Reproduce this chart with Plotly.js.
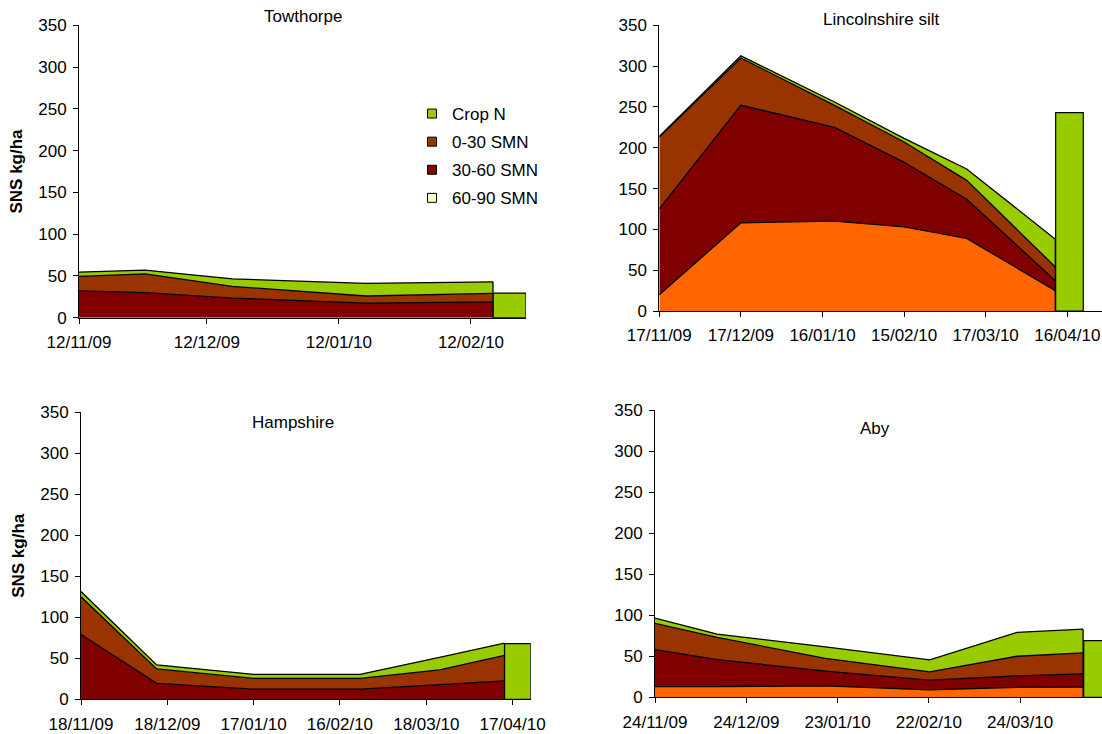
<!DOCTYPE html>
<html>
<head>
<meta charset="utf-8">
<script src="https://cdn.plot.ly/plotly-3.0.1.min.js"></script>
<style>html,body{margin:0;padding:0;background:#fff}#chart{width:1102px;height:734px}</style>
</head>
<body>
<div id="chart"></div>
<script>
// ---------- data ----------
var seriesNames = ['Crop N', '0-30 SMN', '30-60 SMN', '60-90 SMN'];

// Towthorpe
var towDates   = ['2009-11-12', '2009-11-27 12:00', '2009-12-18', '2010-01-18 07:00', '2010-02-17 04:00'];
var tow3060    = [32, 30, 23.5, 17.5, 19];
var tow030     = [17.5, 22.5, 14, 8.5, 10];
var towCrop    = [5, 4.5, 9, 15, 14];
var towBarDate = ['2010-02-21 01:00'];
var towBar     = [29.5];
var towTicks   = ['2009-11-12', '2009-12-12', '2010-01-12', '2010-02-12'];

// Lincolnshire silt
var linDates   = ['2009-11-17', '2009-12-17', '2010-01-20 10:00', '2010-02-15', '2010-03-10', '2010-04-11 14:00'];
var lin6090    = [20, 108, 110, 103, 89, 25];
var lin3060    = [105, 144, 115, 79, 48, 12];
var lin030     = [88, 58, 27, 25, 23, 17];
var linCrop    = [1, 2.5, 4, 4.5, 14, 34];
var linBarDate = ['2010-04-16 19:00'];
var linBar     = [243];
var linTicks   = ['2009-11-17', '2009-12-17', '2010-01-16', '2010-02-15', '2010-03-17', '2010-04-16'];

// Hampshire
var hamDates   = ['2009-11-18', '2009-12-14 07:00', '2010-01-17', '2010-02-23', '2010-03-22 14:00', '2010-04-14 05:00'];
var ham3060    = [79, 19.5, 12.5, 12.5, 18, 22.5];
var ham030     = [46, 17.5, 13, 13, 18, 31];
var hamCrop    = [6.5, 5, 5, 5, 15, 15];
var hamBarDate = ['2010-04-18 17:00'];
var hamBar     = [68];
var hamTicks   = ['2009-11-18', '2009-12-18', '2010-01-17', '2010-02-16', '2010-03-18', '2010-04-17'];

// Aby
var abyDates   = ['2009-11-24', '2009-12-14 10:00', '2010-01-19', '2010-02-22 07:00', '2010-03-23', '2010-04-13 17:00'];
var aby6090    = [13, 13, 14, 9, 12, 12.5];
var aby3060    = [45, 33, 18, 12, 14, 16];
var aby030     = [32, 27, 15.5, 10, 24, 25.5];
var abyCrop    = [6.5, 4, 14, 14.5, 29, 29];
var abyBarDate = ['2010-04-18 10:00'];
var abyBar     = [69];
var abyTicks   = ['2009-11-24', '2009-12-24', '2010-01-23', '2010-02-22', '2010-03-24'];

// ---------- styles ----------
var FONT = 'Liberation Sans, Arial, sans-serif';
var C = {crop: '#99CC00', s030: '#993300', s3060: '#800000', s6090: '#FF6600', s6090leg: '#FFFFCC'};
var DAY = 86400000;
var W = 1102, H = 734;

var traces = [];
function area(x, y, color, xa, ya, grp) {
  traces.push({type: 'scatter', mode: 'lines', x: x, y: y, stackgroup: grp,
    xaxis: xa, yaxis: ya, fillcolor: color, line: {color: '#000', width: 1.3, shape: 'linear'},
    showlegend: false, hoverinfo: 'skip'});
}
function edge(x, layers, xa, ya) {
  var n = x.length - 1, tot = 0;
  layers.forEach(function (a) { tot += a[n]; });
  traces.push({type: 'scatter', mode: 'lines', x: [x[n], x[n]], y: [0, tot], xaxis: xa, yaxis: ya,
    line: {color: '#000', width: 1.3}, showlegend: false, hoverinfo: 'skip'});
}
function bar(x, y, widthDays, xa, ya) {
  traces.push({type: 'bar', x: x, y: y, width: [widthDays * DAY], xaxis: xa, yaxis: ya,
    marker: {color: C.crop, line: {color: '#000', width: 1.2}}, showlegend: false, hoverinfo: 'skip'});
}

// Towthorpe
area(towDates, tow3060, C.s3060, 'x', 'y', 't');
area(towDates, tow030, C.s030, 'x', 'y', 't');
area(towDates, towCrop, C.crop, 'x', 'y', 't');
edge(towDates, [tow3060, tow030, towCrop], 'x', 'y');
bar(towBarDate, towBar, 7.75, 'x', 'y');

// Lincolnshire
area(linDates, lin6090, C.s6090, 'x2', 'y2', 'l');
area(linDates, lin3060, C.s3060, 'x2', 'y2', 'l');
area(linDates, lin030, C.s030, 'x2', 'y2', 'l');
area(linDates, linCrop, C.crop, 'x2', 'y2', 'l');
edge(linDates, [lin6090, lin3060, lin030, linCrop], 'x2', 'y2');
bar(linBarDate, linBar, 10.15, 'x2', 'y2');

// Hampshire
area(hamDates, ham3060, C.s3060, 'x3', 'y3', 'h');
area(hamDates, ham030, C.s030, 'x3', 'y3', 'h');
area(hamDates, hamCrop, C.crop, 'x3', 'y3', 'h');
edge(hamDates, [ham3060, ham030, hamCrop], 'x3', 'y3');
bar(hamBarDate, hamBar, 9.1, 'x3', 'y3');

// Aby
area(abyDates, aby6090, C.s6090, 'x4', 'y4', 'a');
area(abyDates, aby3060, C.s3060, 'x4', 'y4', 'a');
area(abyDates, aby030, C.s030, 'x4', 'y4', 'a');
area(abyDates, abyCrop, C.crop, 'x4', 'y4', 'a');
edge(abyDates, [aby6090, aby3060, aby030, abyCrop], 'x4', 'y4');
bar(abyBarDate, abyBar, 9, 'x4', 'y4');

// legend entries
var legColors = [C.crop, C.s030, C.s3060, C.s6090leg];
seriesNames.forEach(function (nm, i) {
  traces.push({type: 'scatter', mode: 'markers', x: [null], y: [null], name: nm, legendgroup: 'g' + i,
    xaxis: 'x', yaxis: 'y', marker: {symbol: 'square', size: 9, color: legColors[i], line: {color: '#000', width: 1}},
    hoverinfo: 'skip'});
});

function px(x) { return x / W; }
function py(y) { return 1 - y / H; }

function xax(range, dom, ticks, anchor) {
  return {type: 'date', range: range, domain: dom, anchor: anchor, tickmode: 'array', tickvals: ticks,
    tickformat: '%d/%m/%y', ticks: 'outside', ticklen: 5, tickcolor: '#000', showline: true,
    linecolor: '#000', linewidth: 1, showgrid: false, zeroline: false, fixedrange: true,
    tickfont: {family: FONT, size: 17, color: '#000'}, ticklabelstandoff: 4, ticklabeloverflow: 'allow'};
}
function yax(dom, anchor, title) {
  var a = {range: [0, 350], domain: dom, anchor: anchor, tickmode: 'linear', tick0: 0, dtick: 50,
    ticks: 'outside', ticklen: 5, tickcolor: '#000', showline: true, linecolor: '#000', linewidth: 1,
    showgrid: false, zeroline: false, fixedrange: true,
    tickfont: {family: FONT, size: 17, color: '#000'}, ticklabelstandoff: 3};
  if (title) a.title = {text: title, font: {family: FONT, size: 17, color: '#000', weight: 'bold'}, standoff: 11};
  return a;
}

var layout = {
  width: W, height: H, margin: {l: 0, r: 0, t: 0, b: 0},
  paper_bgcolor: '#fff', plot_bgcolor: 'rgba(0,0,0,0)',
  font: {family: FONT, size: 17, color: '#000'},
  showlegend: true,
  legend: {x: px(412), y: py(96), xanchor: 'left', yanchor: 'top', bgcolor: 'rgba(0,0,0,0)',
    borderwidth: 0, font: {family: FONT, size: 17, color: '#000'}, tracegroupgap: 3, traceorder: 'grouped'},
  xaxis:  xax(['2009-11-12', '2010-02-24 22:00'], [px(79), px(526)], towTicks, 'y'),
  yaxis:  yax([py(317.7), py(25.3)], 'x', 'SNS kg/ha'),
  xaxis2: xax(['2009-11-17', '2010-04-28 18:00'], [px(659.3), 1], linTicks, 'y2'),
  yaxis2: yax([py(311), py(25.3)], 'x2', null),
  xaxis3: xax(['2009-11-18', '2010-04-23 07:00'], [px(81), px(530.7)], hamTicks, 'y3'),
  yaxis3: yax([py(699.3), py(412.3)], 'x3', 'SNS kg/ha'),
  xaxis4: xax(['2009-11-24', '2010-04-19 22:00'], [px(655), 1], abyTicks, 'y4'),
  yaxis4: yax([py(697.3), py(410)], 'x4', null),
  annotations: [
    {text: 'Towthorpe', x: px(303), y: py(16.7)},
    {text: 'Lincolnshire silt', x: px(881), y: py(20)},
    {text: 'Hampshire', x: px(293), y: py(422.3)},
    {text: 'Aby', x: px(875), y: py(428.3)}
  ].map(function (a) {
    return {text: a.text, x: a.x, y: a.y, xref: 'paper', yref: 'paper', xanchor: 'center', yanchor: 'middle',
      showarrow: false, font: {family: FONT, size: 17, color: '#000'}};
  }),
  hovermode: false, bargap: 0
};

Plotly.newPlot('chart', traces, layout, {staticPlot: true, displayModeBar: false});
</script>
</body>
</html>
